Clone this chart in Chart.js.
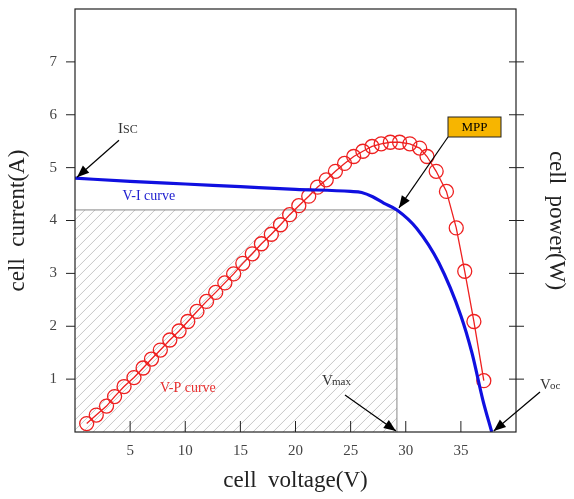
<!DOCTYPE html>
<html><head><meta charset="utf-8">
<script src="https://cdn.jsdelivr.net/npm/chart.js@4"></script>
<style>html,body{margin:0;padding:0;background:#fff;overflow:hidden}#w{width:574px;height:517px;margin-top:-18px}</style>
</head><body><div id="w"><canvas id="c"></canvas></div>
<script>
const viVoltage = [0, 5, 10, 15, 20, 25, 26, 27, 28, 29.2, 31, 33, 35, 36, 37, 37.8];
const viCurrent = [4.8, 4.74, 4.69, 4.64, 4.59, 4.55, 4.53, 4.45, 4.33, 4.2, 3.85, 3.2, 2.2, 1.5, 0.6, 0];
const vpVoltage = [1.06,1.93,2.86,3.59,4.45,5.35,6.18,6.94,7.74,8.60,9.44,10.23,11.06,11.93,12.76,13.59,14.39,15.22,16.08,16.91,17.81,18.64,19.47,20.30,21.20,21.99,22.79,23.62,24.45,25.28,26.11,26.94,27.77,28.60,29.44,30.37,31.26,31.93,32.76,33.69,34.58,35.35,36.18,37.08];
const vpPower = [0.16,0.32,0.49,0.67,0.86,1.03,1.21,1.38,1.55,1.74,1.91,2.09,2.28,2.47,2.64,2.82,2.99,3.19,3.37,3.56,3.74,3.92,4.11,4.28,4.46,4.63,4.77,4.93,5.08,5.21,5.31,5.40,5.45,5.48,5.48,5.45,5.37,5.21,4.93,4.55,3.86,3.04,2.09,0.97];
const xTicks = [5,10,15,20,25,30,35];
const yTicks = [1,2,3,4,5,6,7];
const mpp = {v:29.2, i:4.2};

const serif = "'Liberation Serif','DejaVu Serif',serif";
const tickCol = '#444';
const OFF = 18; // canvas shifted up by this many px

const deco = {
  id:'deco',
  beforeDatasetsDraw(ch){
    const {ctx, scales:{x,y}} = ch;
    const x0=x.getPixelForValue(0), x1=x.getPixelForValue(mpp.v);
    const y0=y.getPixelForValue(0), y1=y.getPixelForValue(mpp.i);
    ctx.save();
    ctx.beginPath(); ctx.rect(x0,y1,x1-x0,y0-y1); ctx.clip();
    ctx.strokeStyle='#c8c8c8'; ctx.lineWidth=1;
    for(let k=-(y0-y1); k<x1-x0+ (y0-y1); k+=10){
      ctx.beginPath(); ctx.moveTo(x0+k, y0); ctx.lineTo(x0+k+(y0-y1), y1); ctx.stroke();
    }
    ctx.restore();
    ctx.save();
    ctx.strokeStyle='#888'; ctx.lineWidth=1;
    ctx.beginPath(); ctx.moveTo(x0,y1); ctx.lineTo(x1,y1); ctx.lineTo(x1,y0); ctx.stroke();
    ctx.restore();
  },
  afterDraw(ch){
    const {ctx, scales:{x,y}, chartArea:a} = ch;
    const P=(v,i)=>[x.getPixelForValue(v), y.getPixelForValue(i)];
    ctx.save();
    ctx.strokeStyle='#222'; ctx.lineWidth=1.2;
    ctx.strokeRect(a.left,a.top,a.right-a.left,a.bottom-a.top);
    ctx.lineWidth=1;
    yTicks.forEach(t=>{const py=y.getPixelForValue(t);
      ctx.beginPath();ctx.moveTo(a.left-9,py);ctx.lineTo(a.left,py);ctx.stroke();
      ctx.beginPath();ctx.moveTo(a.right-7,py);ctx.lineTo(a.right+8,py);ctx.stroke();});
    xTicks.forEach(t=>{const px=x.getPixelForValue(t);
      ctx.beginPath();ctx.moveTo(px,a.bottom-11);ctx.lineTo(px,a.bottom);ctx.stroke();});
    const arrow=(fx,fy,tx,ty)=>{
      ctx.strokeStyle='#000';ctx.fillStyle='#000';ctx.lineWidth=1.2;
      ctx.beginPath();ctx.moveTo(fx,fy);ctx.lineTo(tx,ty);ctx.stroke();
      const ang=Math.atan2(ty-fy,tx-fx),L=13,W=0.38;
      ctx.beginPath();ctx.moveTo(tx,ty);
      ctx.lineTo(tx-L*Math.cos(ang-W),ty-L*Math.sin(ang-W));
      ctx.lineTo(tx-L*Math.cos(ang+W),ty-L*Math.sin(ang+W));ctx.closePath();ctx.fill();
    };
    const [mx,my]=P(mpp.v,mpp.i);
    const [ix,iy]=P(0,4.8);
    arrow(ix+44,iy-38,ix+2,iy-1);
    arrow(448,137+OFF,mx+2,my-2);
    arrow(345,395+OFF,mx-1,a.bottom-1);
    const [ox]=P(37.8,0);
    arrow(540,392+OFF,ox+2,a.bottom-1);
    ctx.fillStyle='#f7b500';ctx.fillRect(448,117+OFF,53,20);
    ctx.strokeStyle='#222';ctx.lineWidth=1;ctx.strokeRect(448,117+OFF,53,20);
    ctx.fillStyle='#000';ctx.font="13px "+serif;ctx.textAlign='center';ctx.textBaseline='middle';
    ctx.fillText('MPP',474.5,127.5+OFF);
    ctx.textAlign='left';ctx.textBaseline='alphabetic';
    ctx.fillStyle='#333';
    ctx.font="15px "+serif;ctx.fillText('I',118,133+OFF);
    ctx.font="12px "+serif;ctx.fillText('SC',123,133+OFF);
    ctx.font="15px "+serif;ctx.fillText('V',322,385+OFF);
    ctx.font="11px "+serif;ctx.fillText('max',332,385+OFF);
    ctx.font="15px "+serif;ctx.fillText('V',540,389+OFF);
    ctx.font="11px "+serif;ctx.fillText('oc',550,389+OFF);
    ctx.font="14px "+serif;
    ctx.fillStyle='#2020d0';const [lx,ly]=P(4.3,4.39);ctx.fillText('V-I curve',lx,ly);
    ctx.fillStyle='#e83030';const [px2,py2]=P(7.7,0.75);ctx.fillText('V-P curve',px2,py2);
    ctx.restore();
  }
};

new Chart(document.getElementById('c'),{
  type:'scatter',
  data:{datasets:[
    {label:'V-P', data:vpVoltage.map((v,k)=>({x:v,y:vpPower[k]})), showLine:true,
     borderColor:'#ee2020', borderWidth:1.3, pointRadius:7, pointBorderWidth:1.3,
     pointBackgroundColor:'rgba(0,0,0,0)', pointBorderColor:'#ee2020', order:2},
    {label:'V-I', data:viVoltage.map((v,k)=>({x:v,y:viCurrent[k]})), showLine:true,
     borderColor:'#1010e0', borderWidth:3.2, pointRadius:0, cubicInterpolationMode:'monotone', order:1}
  ]},
  options:{
    responsive:true, maintainAspectRatio:false, animation:false,
    layout:{padding:{top:9,right:0,left:0,bottom:0}},
    plugins:{legend:{display:false},tooltip:{enabled:false}},
    scales:{
      x:{type:'linear',min:0,max:40,
        afterBuildTicks(s){s.ticks=xTicks.map(v=>({value:v}));},
        grid:{display:false,drawTicks:false}, border:{display:false},
        ticks:{color:tickCol,font:{family:serif,size:15},padding:10},
        title:{display:true,text:'cell  voltage(V)',color:'#222',font:{family:serif,size:23},padding:{top:0}},
        afterFit(s){s.height=67;}},
      y:{type:'linear',min:0,max:8,
        afterBuildTicks(s){s.ticks=yTicks.map(v=>({value:v}));},
        grid:{display:false,drawTicks:false}, border:{display:false},
        ticks:{color:tickCol,font:{family:serif,size:15},padding:18},
        title:{display:true,text:'cell  current(A)',color:'#222',font:{family:serif,size:23},padding:{bottom:10}},
        afterFit(s){s.width=75;}},
      y2:{type:'linear',position:'right',min:0,max:8,
        grid:{display:false,drawTicks:false}, border:{display:false},
        ticks:{display:false},
        title:{display:true,text:'cell  power(W)',color:'#222',font:{family:serif,size:23}},
        afterFit(s){s.width=58;}}
    }
  },
  plugins:[deco]
});
</script></body></html>
